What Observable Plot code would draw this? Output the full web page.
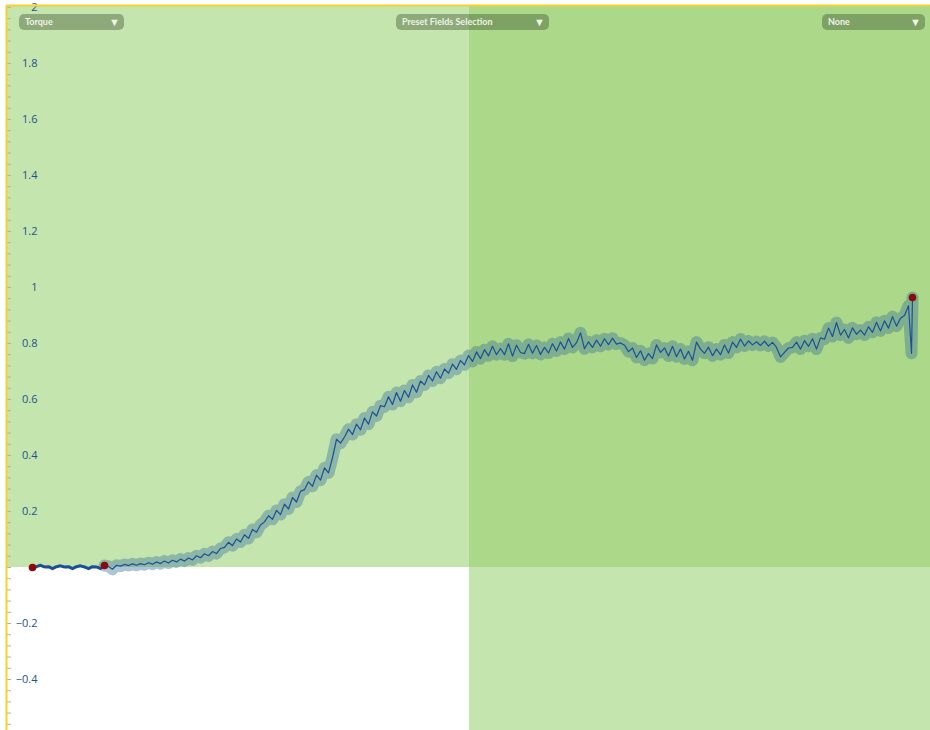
<!DOCTYPE html>
<html>
<head>
<meta charset="utf-8">
<script src="https://cdn.jsdelivr.net/npm/d3@7"></script>
<script src="https://cdn.jsdelivr.net/npm/@observablehq/plot@0.6"></script>
<style>
  html, body { margin: 0; padding: 0; background: #fff; }
  #wrap { position: relative; width: 930px; height: 730px; overflow: hidden; }
  #wrap svg { display: block; }
  .menu {
    position: absolute; top: 14px; height: 16px; box-sizing: border-box;
    background: rgba(40, 60, 30, 0.35); border-radius: 5px;
    color: #eef2e8; font-family: Lato, "Open Sans", sans-serif; font-weight: 700;
    font-size: 9px; line-height: 16px; padding-left: 6px;
  }
  .menu .arrow { position: absolute; right: 4px; top: 0; font-size: 11px; line-height: 16px; }
</style>
</head>
<body>
<div id="wrap"></div>
<script>
// ---- data ----
// torque before the test start (sample index 0..18)
const preTorque = [0.000, 0.003, 0.008, 0.002, 0.003, -0.004, 0.003, 0.006, 0.002, 0.003,
  -0.004, 0.003, 0.006, 0.002, -0.004, 0.003, 0.002, -0.004, 0.007];

// torque during the test (sample index 18..219, then the final two readings)
const mainTorque = [
  0.007, 0.004, -0.006, 0.008, 0.005, 0.011, 0.007, 0.013, 0.008, 0.014,
  0.010, 0.017, 0.012, 0.020, 0.014, 0.023, 0.016, 0.026, 0.020, 0.030,
  0.023, 0.034, 0.027, 0.042, 0.035, 0.049, 0.042, 0.057, 0.050, 0.068,
  0.072, 0.090, 0.078, 0.102, 0.091, 0.117, 0.104, 0.136, 0.126, 0.152,
  0.163, 0.185, 0.172, 0.204, 0.189, 0.226, 0.209, 0.250, 0.234, 0.272,
  0.278, 0.306, 0.290, 0.330, 0.312, 0.356, 0.338, 0.392, 0.458, 0.444,
  0.466, 0.494, 0.475, 0.512, 0.492, 0.534, 0.512, 0.556, 0.541, 0.578,
  0.574, 0.610, 0.582, 0.625, 0.594, 0.632, 0.608, 0.652, 0.626, 0.666,
  0.652, 0.686, 0.666, 0.699, 0.676, 0.709, 0.694, 0.726, 0.708, 0.739,
  0.724, 0.757, 0.736, 0.770, 0.746, 0.778, 0.756, 0.790, 0.760, 0.782,
  0.760, 0.799, 0.755, 0.794, 0.768, 0.764, 0.797, 0.765, 0.793, 0.761,
  0.786, 0.766, 0.799, 0.773, 0.805, 0.780, 0.818, 0.786, 0.803, 0.838,
  0.781, 0.806, 0.786, 0.812, 0.790, 0.817, 0.796, 0.819, 0.798, 0.802,
  0.794, 0.771, 0.784, 0.750, 0.774, 0.740, 0.764, 0.746, 0.795, 0.768,
  0.784, 0.755, 0.790, 0.753, 0.780, 0.745, 0.772, 0.740, 0.805, 0.780,
  0.765, 0.787, 0.756, 0.780, 0.760, 0.795, 0.766, 0.805, 0.786, 0.816,
  0.791, 0.809, 0.795, 0.806, 0.793, 0.808, 0.791, 0.804, 0.786, 0.752,
  0.768, 0.784, 0.786, 0.805, 0.780, 0.810, 0.790, 0.817, 0.780, 0.820,
  0.815, 0.855, 0.825, 0.875, 0.830, 0.850, 0.820, 0.856, 0.833, 0.848,
  0.830, 0.860, 0.840, 0.876, 0.845, 0.881, 0.855, 0.896, 0.862, 0.890,
  0.900, 0.935,
  0.765, 0.964
];
const mainStart = 18;
const tailTime = [219.75, 220];

// shaded zones (sample index / torque)
const zoneX1 = [-6.5, 109.25];
const zoneX2 = [224.5, 224.5];
const zoneY1 = [0, -0.582];
const zoneY2 = [2.007, 2.007];

// y axis
const yLabels = [-0.4, -0.2, 0.2, 0.4, 0.6, 0.8, 1, 1.2, 1.4, 1.6, 1.8, 2];
const yMinorTicks = d3.range(-14, 51).map(k => +(k * 0.04).toFixed(2));

// menus
const menuLabels = ["Torque", "Preset Fields Selection", "None"];
const menuLeft = [19, 396, 822];
const menuWidth = [105, 153, 103];

// ---- build ----
const nRegular = mainTorque.length - tailTime.length;
const pre = preTorque.map((v, i) => ({t: i, v}));
const main = mainTorque.map((v, k) => ({t: k < nRegular ? mainStart + k : tailTime[k - nRegular], v}));
const zones = zoneX1.map((x1, i) => ({x1, x2: zoneX2[i], y1: zoneY1[i], y2: zoneY2[i]}));
const markers = [pre[0], main[0], main[main.length - 1]];
const fmt = d => d < 0 ? "\u2212" + Math.abs(d) : String(d);

const chart = Plot.plot({
  width: 930, height: 730,
  marginTop: 5, marginBottom: 0, marginLeft: 6, marginRight: 0,
  x: {domain: [-6.5, 224.5], axis: null},
  y: {domain: [-0.582, 2.007], axis: null},
  style: {background: "white"},
  marks: [
    Plot.rect(zones, {x1: "x1", x2: "x2", y1: "y1", y2: "y2", fill: "rgb(150,208,108)", fillOpacity: 0.55}),
    Plot.axisY({anchor: "left", ticks: yMinorTicks, tickSize: 4, dx: 5, tickFormat: () => "", stroke: "#a9b5a3"}),
    Plot.text(yLabels, {y: d => d, text: fmt, frameAnchor: "left", dx: 31, textAnchor: "end",
      fill: "#24528f", fontSize: 11, fontFamily: "Open Sans", fontWeight: 500}),
    Plot.line(main, {x: "t", y: "v", stroke: "#3f7598", strokeOpacity: 0.42, strokeWidth: 12,
      strokeLinejoin: "round", strokeLinecap: "round"}),
    Plot.line(pre, {x: "t", y: "v", stroke: "#1d4f98", strokeWidth: 3}),
    Plot.line(main, {x: "t", y: "v", stroke: "#1d4f98", strokeWidth: 1.2}),
    Plot.dot(markers, {x: "t", y: "v", r: 3.8, fill: "#8b0a0a", stroke: "none"}),
    Plot.ruleX([-6.5], {stroke: "#f6d22f", strokeWidth: 2}),
    Plot.ruleY([2.007], {stroke: "#f6d22f", strokeWidth: 2})
  ]
});

const wrap = document.getElementById("wrap");
wrap.appendChild(chart);
menuLabels.forEach((label, i) => {
  const div = document.createElement("div");
  div.className = "menu";
  div.style.left = menuLeft[i] + "px";
  div.style.width = menuWidth[i] + "px";
  div.textContent = label;
  const a = document.createElement("span");
  a.className = "arrow";
  a.textContent = "\u25BC";
  div.appendChild(a);
  wrap.appendChild(div);
});
</script>
</body>
</html>
